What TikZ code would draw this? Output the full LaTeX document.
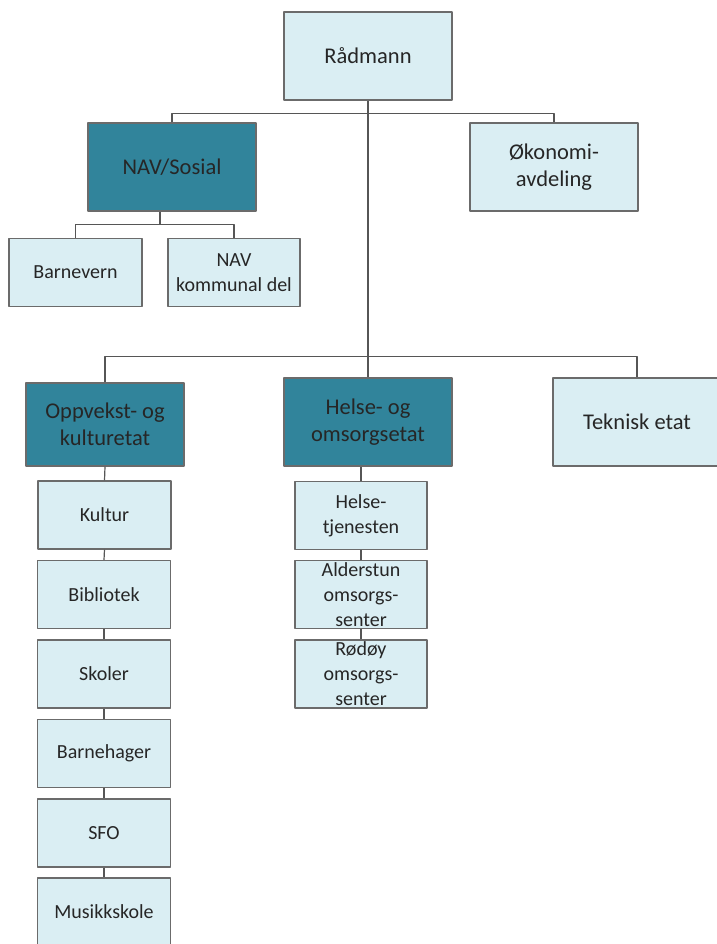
\documentclass[tikz,border=0pt]{standalone}
\usepackage{fontspec}
\setmainfont{Carlito}
\definecolor{lightbox}{HTML}{DAEEF3}
\definecolor{darkbox}{HTML}{31849B}
\definecolor{boxline}{HTML}{6B6B6B}
\definecolor{textcol}{HTML}{262626}
\tikzset{
  unit/.style={draw=boxline,line width=1.3bp,fill=lightbox,text=textcol,align=center,
    minimum width=133bp,minimum height=68bp,inner sep=0pt,
    font=\fontsize{20bp}{25bp}\selectfont},
  bigunit/.style={unit,minimum width=168bp,minimum height=88bp,
    font=\fontsize{22.5bp}{27bp}\selectfont},
  etat/.style={bigunit,fill=darkbox},
  link/.style={draw=boxline!80!black,line width=1.2bp},
}
\begin{document}
\begin{tikzpicture}[line join=bevel]
\useasboundingbox (0bp,0bp) rectangle (717bp,944bp);
%%
  % Node: Radmann
  \node [bigunit] (Radmann) at (368bp,888bp) {Rådmann};
  % Node: NAVSosial
  \node [etat] (NAVSosial) at (172bp,777bp) {NAV/Sosial};
  % Node: Okonomi
  \node [bigunit] (Okonomi) at (554bp,777bp) {Økonomi-\\avdeling};
  % Node: Barnevern
  \node [unit] (Barnevern) at (75.5bp,671.5bp) {Barnevern};
  % Node: NAVkommunal
  \node [unit,minimum width=132bp] (NAVkommunal) at (234bp,671.5bp) {NAV\\kommunal del};
  % Node: Oppvekst
  \node [etat,minimum width=158bp,minimum height=83bp] (Oppvekst) at (105bp,519.5bp) {Oppvekst- og\\kulturetat};
  % Node: Helse
  \node [etat] (Helse) at (368bp,522bp) {Helse- og\\omsorgsetat};
  % Node: Teknisk
  \node [bigunit] (Teknisk) at (637bp,522bp) {Teknisk etat};
  % Node: Kultur
  \node [unit] (Kultur) at (104.5bp,429bp) {Kultur};
  % Node: Bibliotek
  \node [unit] (Bibliotek) at (104bp,349.5bp) {Bibliotek};
  % Node: Skoler
  \node [unit] (Skoler) at (104bp,270bp) {Skoler};
  % Node: Barnehager
  \node [unit] (Barnehager) at (104bp,190.5bp) {Barnehager};
  % Node: SFO
  \node [unit] (SFO) at (104bp,111bp) {SFO};
  % Node: Musikkskole
  \node [unit] (Musikkskole) at (104bp,32bp) {Musikkskole};
  % Node: Helsetjenesten
  \node [unit,minimum width=132bp] (Helsetjenesten) at (361bp,428.5bp) {Helse-\\tjenesten};
  % Node: Alderstun
  \node [unit,minimum width=132bp] (Alderstun) at (361bp,349.5bp) {Alderstun\\omsorgs-\\senter};
  % Node: Rodoy
  \node [unit,minimum width=132bp] (Rodoy) at (361bp,270bp) {Rødøy\\omsorgs-\\senter};
%%
  % Edge: Radmann -> Helse
  \draw [link] (Radmann.south) -- (Helse.north);
  % Edge: Radmann -> NAVSosial, Okonomi
  \draw [link] (NAVSosial.north) -- ++(0,9bp) -| (Okonomi.north);
  % Edge: NAVSosial -> Barnevern, NAVkommunal
  \draw [link] ([xshift=-12bp]NAVSosial.south) -- ++(0,-13bp) coordinate (navbus);
  \draw [link] (Barnevern.north) |- (navbus) -| (NAVkommunal.north);
  % Edge: Radmann -> Oppvekst, Teknisk
  \draw [link] (Oppvekst.north) -- ++(0,26bp) -| (Teknisk.north);
  % Edge: Oppvekst -> Kultur -> ... -> Musikkskole
  \draw [link] (Oppvekst.south) -- (Kultur.north);
  \draw [link] (Kultur.south) -- (Bibliotek.north);
  \draw [link] (Bibliotek.south) -- (Skoler.north);
  \draw [link] (Skoler.south) -- (Barnehager.north);
  \draw [link] (Barnehager.south) -- (SFO.north);
  \draw [link] (SFO.south) -- (Musikkskole.north);
  % Edge: Helse -> Helsetjenesten -> Alderstun -> Rodoy
  \draw [link] (Helsetjenesten.north) -- (Helsetjenesten.north |- Helse.south);
  \draw [link] (Helsetjenesten.south) -- (Alderstun.north);
  \draw [link] (Alderstun.south) -- (Rodoy.north);
%
\end{tikzpicture}
\end{document}
